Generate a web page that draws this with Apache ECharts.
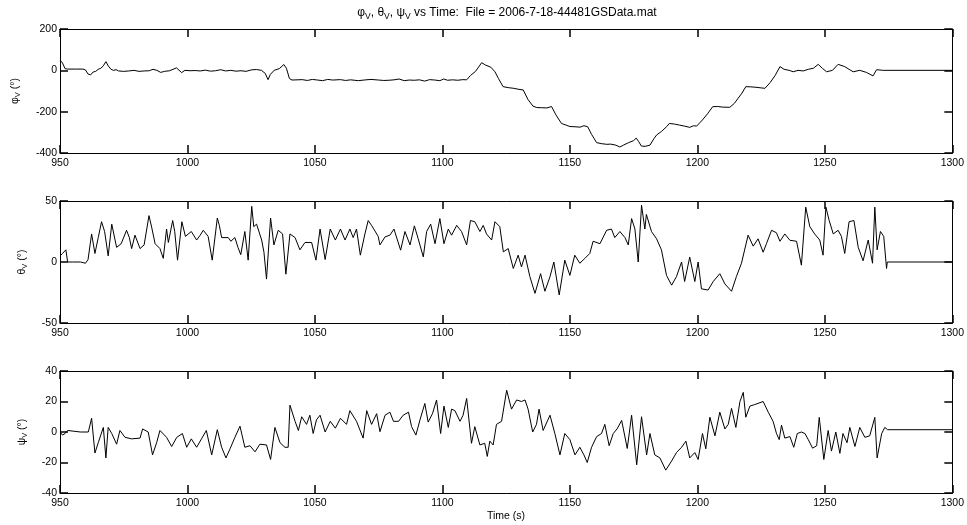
<!DOCTYPE html>
<html><head><meta charset="utf-8">
<script src="https://cdn.jsdelivr.net/npm/echarts@6/dist/echarts.min.js"></script>
<style>html,body{margin:0;padding:0;background:#fff}#c{width:967px;height:525px}</style>
</head><body><div id="c"></div>
<script>
const phiTime = [950,951,952,953,956,959,960,961,962,963,964,965,966,967,968,969,970,971,972,973,975,977,979,981,983,985,986.5,988,989.5,991,993,995.7,997.7,999,1001,1003,1005,1007,1009,1011,1013,1015,1017,1019,1021,1023,1025,1027,1029,1030.5,1031.6,1032.5,1034,1036,1037.8,1038.8,1040,1041,1045,1047,1049,1051,1053,1055,1057,1060,1062,1064,1067,1070,1072,1075,1077,1079,1081,1083,1085,1087,1089,1091,1093,1095,1097,1099,1100.5,1102,1104,1106,1108,1109.5,1111,1113,1115.4,1117,1119,1120.6,1122,1123.8,1126,1128,1130,1131.7,1133.5,1135.5,1137,1139,1141,1142.8,1144.5,1146.7,1148.5,1150,1152,1154,1155.5,1157,1158.5,1160.5,1162.5,1164.5,1166,1168,1169.6,1171,1173,1175,1176,1177,1178,1179.5,1181.4,1183,1184,1186,1188,1189,1191,1193,1195,1197,1198.5,1199.7,1202,1204,1206,1208,1210,1212.7,1214.5,1216,1217.5,1219,1221,1223,1225,1226.5,1228.5,1230.5,1232.4,1234,1236,1237.6,1239.5,1241.5,1243.5,1245.5,1247.4,1249,1250.7,1253,1255.2,1257.8,1259.5,1261.1,1263.7,1266.3,1268.9,1270.3,1272.9,1300];
const phiDeg = [50,35,8,6,6,6,2,-18,-22,-8,-5,5,10,22,42,20,5,0,3,-3,-5,-3,0,-5,-3,-2,5,0,-10,-5,-2,12,-11,0,-2,-1,-3,1,-4,-2,3,-3,0,-4,-2,-5,2,4,0,-15,-45,-20,0,8,28,10,-40,-47,-45,-49,-44,-47,-50,-44,-47,-45,-49,-46,-50,-46,-44,-47,-49,-48,-46,-42,-50,-47,-48,-46,-52,-45,-47,-50,-42,-48,-46,-48,-45,-46,-25,-5,37,25,15,-7,-40,-79,-84,-87,-92,-95,-140,-173,-180,-181,-182,-175,-215,-257,-265,-272,-273,-275,-268,-273,-310,-350,-355,-358,-357,-362,-371,-362,-350,-340,-328,-345,-366,-368,-362,-330,-313,-295,-272,-257,-260,-265,-270,-276,-268,-270,-240,-210,-176,-175,-178,-179,-160,-135,-110,-79,-80,-82,-85,-87,-60,-25,18,5,0,-7,0,-3,5,10,29,10,-7,0,29,18,5,-7,0,-10,-27,3,0,0];

const thetaTime = [950,951,952.3,953,955,958,960,961,962.4,963.7,965,966.3,967.5,968.9,970.3,972.2,974,976.1,977.2,978.1,979.4,981.4,983,984.9,986,987.3,989.2,990.5,991.8,992.5,994.2,995,996.1,997.8,999.2,1001.5,1003.6,1005,1006.2,1008.1,1009.7,1011.7,1012.5,1013.4,1016,1017,1018.6,1019.8,1020.9,1022.5,1023.8,1025.2,1026,1027.1,1029.1,1030,1031,1032.6,1033.9,1035.6,1037.3,1038.6,1040.2,1042.2,1044.1,1046.1,1048.7,1050.4,1052,1054,1056,1058,1060,1061.8,1063.7,1065,1066.3,1067.8,1069.6,1070.9,1072.2,1074.8,1075.5,1077.5,1079.4,1081,1083.6,1085.3,1087.3,1089,1090.5,1092.5,1093.8,1095.4,1097.1,1099,1100.6,1102.3,1103.6,1105.6,1107.5,1109.5,1111,1112.7,1114.7,1116,1117.3,1119.3,1120.6,1122.5,1123.9,1125.8,1127.8,1129.7,1131,1132.4,1134.3,1136.3,1138.5,1140.2,1142.2,1143.7,1145.8,1148,1150,1151.9,1153.9,1155.9,1157.8,1159.1,1161.8,1164.4,1166.3,1167.6,1169.6,1171.6,1172.9,1174.2,1175.5,1176.8,1178.1,1179.4,1180,1182,1184,1185.9,1187.9,1189.9,1191.8,1193.8,1195,1197,1199,1200.3,1201.6,1204.2,1206.2,1208.8,1210.8,1213.4,1215.3,1217.3,1219.9,1221.9,1223.8,1225.8,1227.1,1229.1,1231,1232.4,1234.3,1236.3,1238.9,1240.8,1242.5,1244.1,1246,1248,1249.3,1250.4,1251.7,1253.3,1255.2,1256.5,1257.8,1259.5,1261.4,1263.1,1265,1267,1268.7,1269.6,1270.5,1271.8,1273.1,1274.2,1274.5,1300];
const thetaDeg = [5,7,10,0,0,0,-1,2,23,7,20,33,25,5,31,12,15,26,20,11,22,11,14,38,28,15,11,3,27,16,34,25,1.5,33,21,25,18,22,26,21,1.5,36,30,20,20,17,20,12,6,25,1.5,45.6,29,31,18,8,-14,36,14,26,23,-10,23,20,10,16,16,1.5,27,2,27,18,27,18,27,20,27,5.6,23,34,30,21,14,20.6,22,27,9.7,25,14,29.6,19,4.2,25,31,15,35.6,15,27,22,30,25,14,34,33,25,30,23,18,33,29,8.3,11,-5.3,5.6,-4,5.6,-12,-25.7,-9.6,-24,-12,0,-27,1.5,-11,5.6,-1,3,7,17,15,26,27,20,25,20,14,35.6,27,0,46.5,27,39,25,19,10,-11,-19,-12,0,-16,4,-16,0,-22,-23,-16,-9.6,-18,-24,-12,-1,22,13,19,8,15,26,24,17,23,17.8,17,-2.6,45,29,23,18,5.6,45,34,23,26,21,7,33,34,12,1,18,-1,45,10,25,21,-5.3,0,0];

const psiTime = [950,951,952,953,953.5,958,961.1,962.4,963.7,965,967,968,968.9,970.3,972.2,973.5,975.5,978.1,981.4,982.4,984.6,986.3,987.9,989.2,991.8,993.8,995.8,998,999.7,1001.5,1003.6,1005.5,1007.4,1009.5,1011.7,1013.4,1015.1,1016.7,1018.6,1020.6,1022.5,1024.5,1026.5,1028.4,1031,1032.6,1034.3,1036.3,1038.2,1039.5,1040.2,1042.2,1043.5,1044.8,1046.7,1048,1049.3,1050.6,1052,1054,1056,1058,1060,1062.4,1063.7,1066.3,1068.9,1070.3,1072.2,1074.2,1075.5,1077.5,1079.4,1080.8,1082.8,1084.6,1086.7,1087.9,1089.6,1091.2,1093.1,1094.4,1096.1,1097.7,1099.3,1100.6,1102.3,1103.6,1104.9,1106.9,1108.1,1109.5,1111.4,1112.7,1114.7,1116.6,1117.6,1118.6,1119.9,1121.2,1123.2,1125.2,1127.1,1129.1,1131,1132.4,1133.6,1135.4,1136.9,1137.9,1139.5,1142.2,1144.1,1146.1,1148,1150,1152,1153.9,1155.5,1156.8,1158.5,1160.5,1162.4,1163.7,1165.4,1167,1168.5,1170.3,1172.5,1174.2,1176.2,1178.1,1180.1,1181.4,1183.3,1185.3,1187.6,1189.9,1191.8,1193.8,1195.5,1197,1199,1200.3,1202,1203.3,1204.9,1206.9,1208.8,1210.8,1212.1,1213.4,1215.1,1216.7,1218,1219,1220.6,1222.5,1225.8,1227.8,1229.7,1231,1232.1,1233,1234.3,1236.3,1237.8,1239.2,1240.8,1242.2,1243.5,1245.2,1246.8,1247.8,1249.6,1251.3,1252.6,1254.3,1255.9,1257.1,1258.7,1259.8,1261.8,1263.7,1265.7,1267.6,1269.6,1270.5,1272.3,1273.5,1274.6,1300];
const psiDeg = [0,-2,-1,1,0,0,0,9,-13.8,-7,3,-17,3,-1,-8,1,-3.5,-4.5,-4,2,0,-15,-7,1,-3.5,-9.5,-3.5,-1,-10,-4.5,-10,-4.5,1,-15,1.5,-10,-17,-11,-3.5,3.8,-10,-9,-13,-8,-8.5,-18,3,-7,-10,-10,17.6,7,1,10,5,11,-1,8,11,0,7,2.5,9,5,14,7,-4,14,5,12,0.2,11,13,7,7,11,13,3.5,-2,8,18.7,6.5,12,21,-1,17,3,15,14,7,11,22,-7.4,3.5,-8.5,-7.4,-16,-6,-8.5,5,7,27.4,15,21,20,21,15,0,5,15,1,11,-1,-15,-1,-5,-15,-10,-15,-20,-10,-3,-1,5,-9,-1,2,7.6,-10.8,11,-21.5,10,-15,-1,-15,-17,-25,-19,-13.5,-10,-6,-17,-13.5,-18,-1,-11,9.7,-2.5,13,2,5,15.5,3,20,26,9.7,17,18,20,13,7,-0.8,-5,4.5,-4,-3,-10,-1,0,-1,-5,-10.6,-9,9.6,-18,1,-12.5,0,-14,-1,-7,3,-9.5,3,-3.5,-2.5,9.6,-17,-1,3,1.5,1.5];

const xTickMin = 950, xTickMax = 1300, xTickStep = 50;
const yRanges = [[-400, 200, 200], [-50, 50, 50], [-40, 40, 20]];
const yNames = ['φ', 'θ', 'ψ'];

const FONT = 'Liberation Sans, Arial, sans-serif';
const rich = {
  a: {fontSize: 10.5, lineHeight: 14, fontFamily: FONT, color: '#000'},
  s: {fontSize: 7.5, lineHeight: 7, verticalAlign: 'bottom', fontFamily: FONT, color: '#000'}
};
const richTitle = {
  a: {fontSize: 12, lineHeight: 16, fontFamily: FONT, color: '#000'},
  s: {fontSize: 8.5, lineHeight: 8, verticalAlign: 'bottom', fontFamily: FONT, color: '#000'}
};
const zip = (t, v) => t.map((x, i) => [x, v[i]]);
const seriesData = [zip(phiTime, phiDeg), zip(thetaTime, thetaDeg), zip(psiTime, psiDeg)];
const tops = [29, 201, 371];
const heights = [124, 122, 122];
const nameGaps = [38, 31, 31];
const plain = v => String(v);
const mkTick = () => ({show: true, inside: true, length: 8, lineStyle: {color: '#000', width: 1.5}});
const mkLine = () => ({show: true, onZero: false, lineStyle: {color: '#000', width: 1}});

const grid = [], xAxis = [], yAxis = [], series = [];
for (let i = 0; i < 3; i++) {
  grid.push({left: 60, right: 14, top: tops[i], height: heights[i]});
  xAxis.push({type: 'value', gridIndex: i, min: xTickMin, max: xTickMax, interval: xTickStep, position: 'bottom',
    axisLine: mkLine(), axisTick: mkTick(), splitLine: {show: false},
    axisLabel: {show: true, margin: 5, fontSize: 10.5, fontFamily: FONT, color: '#000', formatter: plain}});
  xAxis.push({type: 'value', gridIndex: i, min: xTickMin, max: xTickMax, interval: xTickStep, position: 'top',
    axisLine: mkLine(), axisTick: mkTick(), splitLine: {show: false}, axisLabel: {show: false}});
  const [ymin, ymax, yint] = yRanges[i];
  yAxis.push({type: 'value', gridIndex: i, min: ymin, max: ymax, interval: yint, position: 'left',
    axisLine: mkLine(), axisTick: mkTick(), splitLine: {show: false},
    axisLabel: {show: true, margin: 3, fontSize: 10.5, fontFamily: FONT, color: '#000', formatter: plain},
    name: '{a|' + yNames[i] + '}{s|V}{a| (°)}', nameLocation: 'middle', nameGap: nameGaps[i],
    nameTextStyle: {rich: rich}});
  yAxis.push({type: 'value', gridIndex: i, min: ymin, max: ymax, interval: yint, position: 'right',
    axisLine: mkLine(), axisTick: mkTick(), splitLine: {show: false}, axisLabel: {show: false}});
  series.push({type: 'line', xAxisIndex: i * 2, yAxisIndex: i * 2, data: seriesData[i],
    showSymbol: false, symbol: 'none', smooth: false, lineStyle: {color: '#000', width: 1}, silent: true});
}

const chart = echarts.init(document.getElementById('c'), null, {renderer: 'canvas'});
chart.setOption({
  animation: false,
  backgroundColor: '#fff',
  grid, xAxis, yAxis, series,
  graphic: [
    {type: 'text', x: 507, y: 13, style: {text: '{a|φ}{s|V}{a|, θ}{s|V}{a|, ψ}{s|V}{a| vs Time:  File = 2006-7-18-44481GSData.mat}',
      rich: richTitle, align: 'center', verticalAlign: 'middle'}},
    {type: 'text', x: 506, y: 516, style: {text: 'Time (s)', fontSize: 10.5, fontFamily: FONT, fill: '#000',
      align: 'center', verticalAlign: 'middle'}}
  ]
});
</script></body></html>
